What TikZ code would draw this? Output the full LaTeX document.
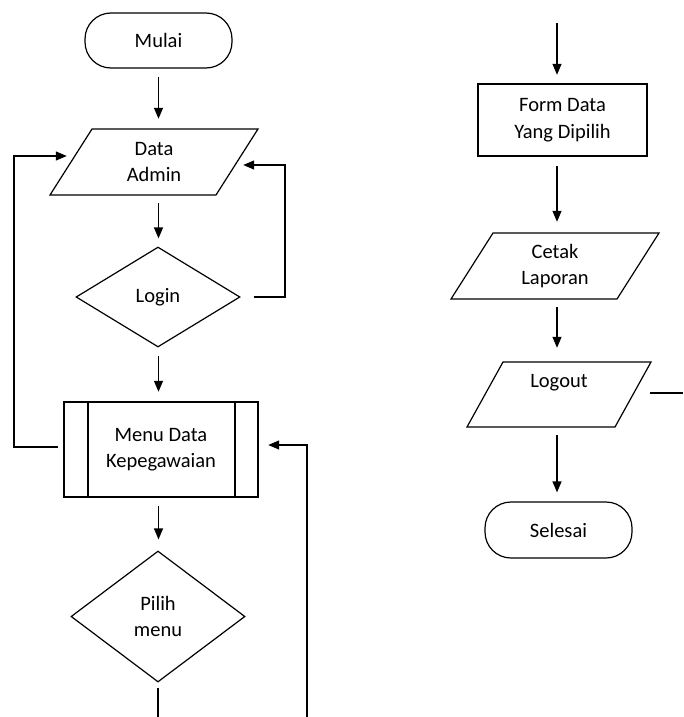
\documentclass[tikz,border=0pt]{standalone}
\usepackage{fontspec}
\setmainfont{Carlito}
\usetikzlibrary{shapes.geometric,arrows.meta,calc}
\begin{document}
\begin{tikzpicture}[x=1pt,y=-1pt,
  every node/.style={font=\fontsize{20.5}{26.5}\selectfont, align=center, inner sep=0pt, text=black},
  term/.style={draw, line width=1.2pt, rounded corners=26pt, minimum width=147pt, minimum height=55pt},
  proc/.style={draw, line width=2.4pt},
  dec/.style={draw, diamond, line width=1.2pt},
  io/.style={minimum height=66pt, minimum width=166pt},
  arr/.style={line width=1.3pt, -{Triangle[length=11pt,width=9pt]}},
  ln/.style={line width=1.3pt},
  iol/.style={line width=1.2pt},
]
\useasboundingbox (0,0) rectangle (683,717);

% left column
\node[term] (mulai) at (158.5,40.5) {Mulai};
\node[io] (da) at (154,162) {Data\\Admin};
\draw[iol] ($(da)+(-62,-33)$) -- ($(da)+(104,-33)$) -- ($(da)+(62,33)$) -- ($(da)+(-104,33)$) -- cycle;
\node[dec, minimum width=164pt, minimum height=100pt] (login) at (158,297) {Login};
\node[proc, minimum width=194pt, minimum height=95pt] (menu) at (161,449.5) {Menu Data\\Kepegawaian};
\draw[proc] ($(menu.north west)+(25,0)$) -- ($(menu.south west)+(25,0)$);
\draw[proc] ($(menu.north east)+(-24,0)$) -- ($(menu.south east)+(-24,0)$);
\node[dec, minimum width=174pt, minimum height=131pt] (pilih) at (158,616.5) {Pilih\\menu};

\coordinate (lft) at (14,300);
\coordinate (rgt) at (285,230);
\coordinate (fb) at (307,717);
\coordinate (pb) at (158,717);

\draw[arr, shorten <=8pt, shorten >=10pt] (mulai.south) -- (mulai.south |- da.north);
\draw[arr, shorten <=8pt, shorten >=8pt] (mulai.south |- da.south) -- (mulai.south |- login.north);
\draw[arr, shorten <=8pt, shorten >=9pt] (mulai.south |- login.south) -- (mulai.south |- menu.north);
\draw[arr, shorten <=8pt, shorten >=11pt] (mulai.south |- menu.south) -- (mulai.south |- pilih.north);
\draw[arr, shorten <=13pt, shorten >=6pt] (login.east) -| (rgt) |- ([yshift=-3pt]da.east);
\draw[arr, shorten <=5pt, shorten >=4pt] ([yshift=2.5pt]menu.west) -| (lft) |- ([yshift=6pt]da.west);
\draw[arr, shorten >=9pt] (fb) |- ([yshift=4.5pt]menu.east);
\draw[ln, shorten <=5pt] (pilih.south) -- (pb);

% right column
\coordinate (ft) at (557,23);
\node[proc, minimum width=169pt, minimum height=72pt] (form) at (562.5,120) {Form Data\\Yang Dipilih};
\node[io] (cl) at (555,266) {Cetak\\Laporan};
\draw[iol] ($(cl)+(-62,-33)$) -- ($(cl)+(104,-33)$) -- ($(cl)+(62,33)$) -- ($(cl)+(-104,33)$) -- cycle;
\node[io, minimum width=148pt, minimum height=65pt] (lo) at (559,394.5) {Logout\\\mbox{}};
\draw[iol] ($(lo)+(-56,-32.5)$) -- ($(lo)+(92,-32.5)$) -- ($(lo)+(56,32.5)$) -- ($(lo)+(-92,32.5)$) -- cycle;
\node[term, minimum height=56pt] (sel) at (558.5,530) {Selesai};
\coordinate (le) at (683,393);

\draw[arr, shorten >=8pt] (ft) -- (ft |- form.north);
\draw[arr, shorten <=9pt, shorten >=11pt] (ft |- form.south) -- (ft |- cl.north);
\draw[arr, shorten <=8pt, shorten >=14pt] (ft |- cl.south) -- (ft |- lo.north);
\draw[arr, shorten <=8pt, shorten >=9pt] (ft |- lo.south) -- (ft |- sel.north);
\draw[ln, shorten <=17pt] ([yshift=1.5pt]lo.east) -- (le);
\end{tikzpicture}
\end{document}
